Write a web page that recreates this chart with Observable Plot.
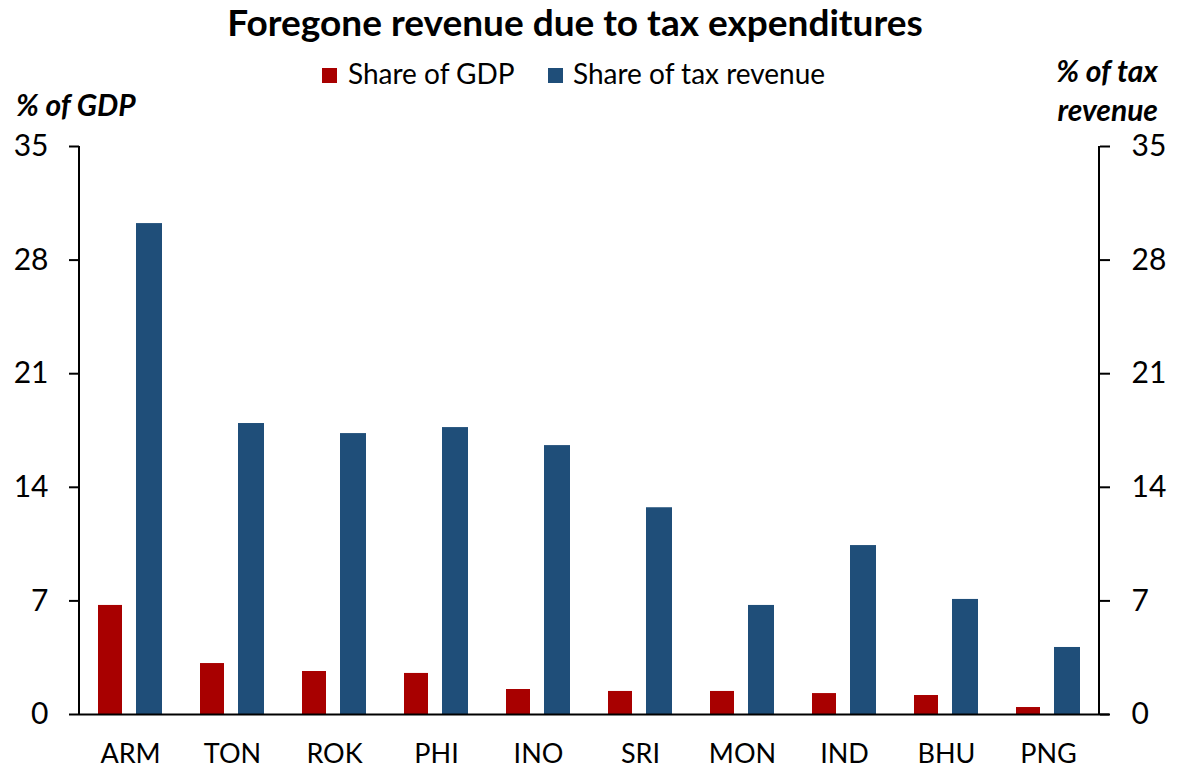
<!DOCTYPE html>
<html>
<head>
<meta charset="utf-8">
<script src="https://cdn.jsdelivr.net/npm/d3@7"></script>
<script src="https://cdn.jsdelivr.net/npm/@observablehq/plot@0.6"></script>
<style>
  html, body { margin: 0; padding: 0; background: #fff; }
  #wrap { position: relative; width: 1185px; height: 770px; font-family: Lato, "Open Sans", sans-serif; color: #000; overflow: hidden; }
  #header { position: relative; width: 1185px; height: 130px; }
  .t { position: absolute; line-height: 1; white-space: nowrap; }
  #title { left: 0; width: 1150px; text-align: center; top: 3px; font-size: 37px; font-weight: 700; }
  .sw { position: absolute; width: 15px; height: 15px; top: 68px; }
  .leg { font-size: 28px; top: 59px; }
  .ax { font-size: 30px; font-weight: 700; font-style: italic; }
</style>
</head>
<body>
<div id="wrap">
  <div id="header">
    <div class="t" id="title">Foregone revenue due to tax expenditures</div>
    <div class="sw" style="left:322px;background:#A80000"></div>
    <div class="t leg" style="left:348px">Share of GDP</div>
    <div class="sw" style="left:548px;background:#1F4E79"></div>
    <div class="t leg" style="left:573px">Share of tax revenue</div>
    <div class="t ax" style="left:16px;top:89px">% of GDP</div>
    <div class="t ax" style="right:27px;top:55px">% of tax</div>
    <div class="t ax" style="right:27px;top:94px">revenue</div>
  </div>
  <div id="chart"></div>
</div>
<script>
const countries = ["ARM", "TON", "ROK", "PHI", "INO", "SRI", "MON", "IND", "BHU", "PNG"];
const gdpShare  = [6.72, 3.14, 2.65, 2.53, 1.54, 1.42, 1.42, 1.29, 1.17, 0.43];
const taxShare  = [30.25, 17.93, 17.31, 17.68, 16.57, 12.74, 6.72, 10.41, 7.09, 4.13];
const yTicks = [0, 7, 14, 21, 28, 35];

const RED = "#A80000";
const BLUE = "#1F4E79";

const data = countries.map((c, i) => ({country: c, gdp: gdpShare[i], tax: taxShare[i]}));

const chart = Plot.plot({
  width: 1185,
  height: 640,
  marginLeft: 79,
  marginRight: 86,
  marginTop: 16,
  marginBottom: 56,
  style: {fontFamily: "Lato, 'Open Sans', sans-serif", background: "white", color: "black", overflow: "visible"},
  x: {domain: countries, padding: 0, label: null},
  y: {domain: [0, 35], label: null},
  marks: [
    Plot.barY(data, {x: "country", y: "gdp", fill: RED, insetLeft: 19, insetRight: 59}),
    Plot.barY(data, {x: "country", y: "tax", fill: BLUE, insetLeft: 57, insetRight: 19}),
    Plot.axisY({anchor: "left", ticks: yTicks, tickSize: 10, tickPadding: 21, fontSize: 30, strokeWidth: 2, label: null}),
    Plot.axisY({anchor: "right", ticks: yTicks, tickSize: 10, tickPadding: 22, fontSize: 30, strokeWidth: 2, label: null}),
    Plot.axisX({tickSize: 0, tickPadding: 29, fontSize: 27, label: null}),
    Plot.ruleY([0], {strokeWidth: 2, insetRight: -10})
  ]
});

// vertical axis lines, placed from the chart's own scales
const xr = chart.scale("x").range;
const yr = chart.scale("y").range;
const svg = d3.select(chart);
[d3.min(xr), d3.max(xr)].forEach(px => {
  svg.append("line")
    .attr("x1", px).attr("x2", px)
    .attr("y1", d3.min(yr)).attr("y2", d3.max(yr))
    .attr("stroke", "black").attr("stroke-width", 2);
});
document.getElementById("chart").appendChild(chart);
</script>
</body>
</html>
